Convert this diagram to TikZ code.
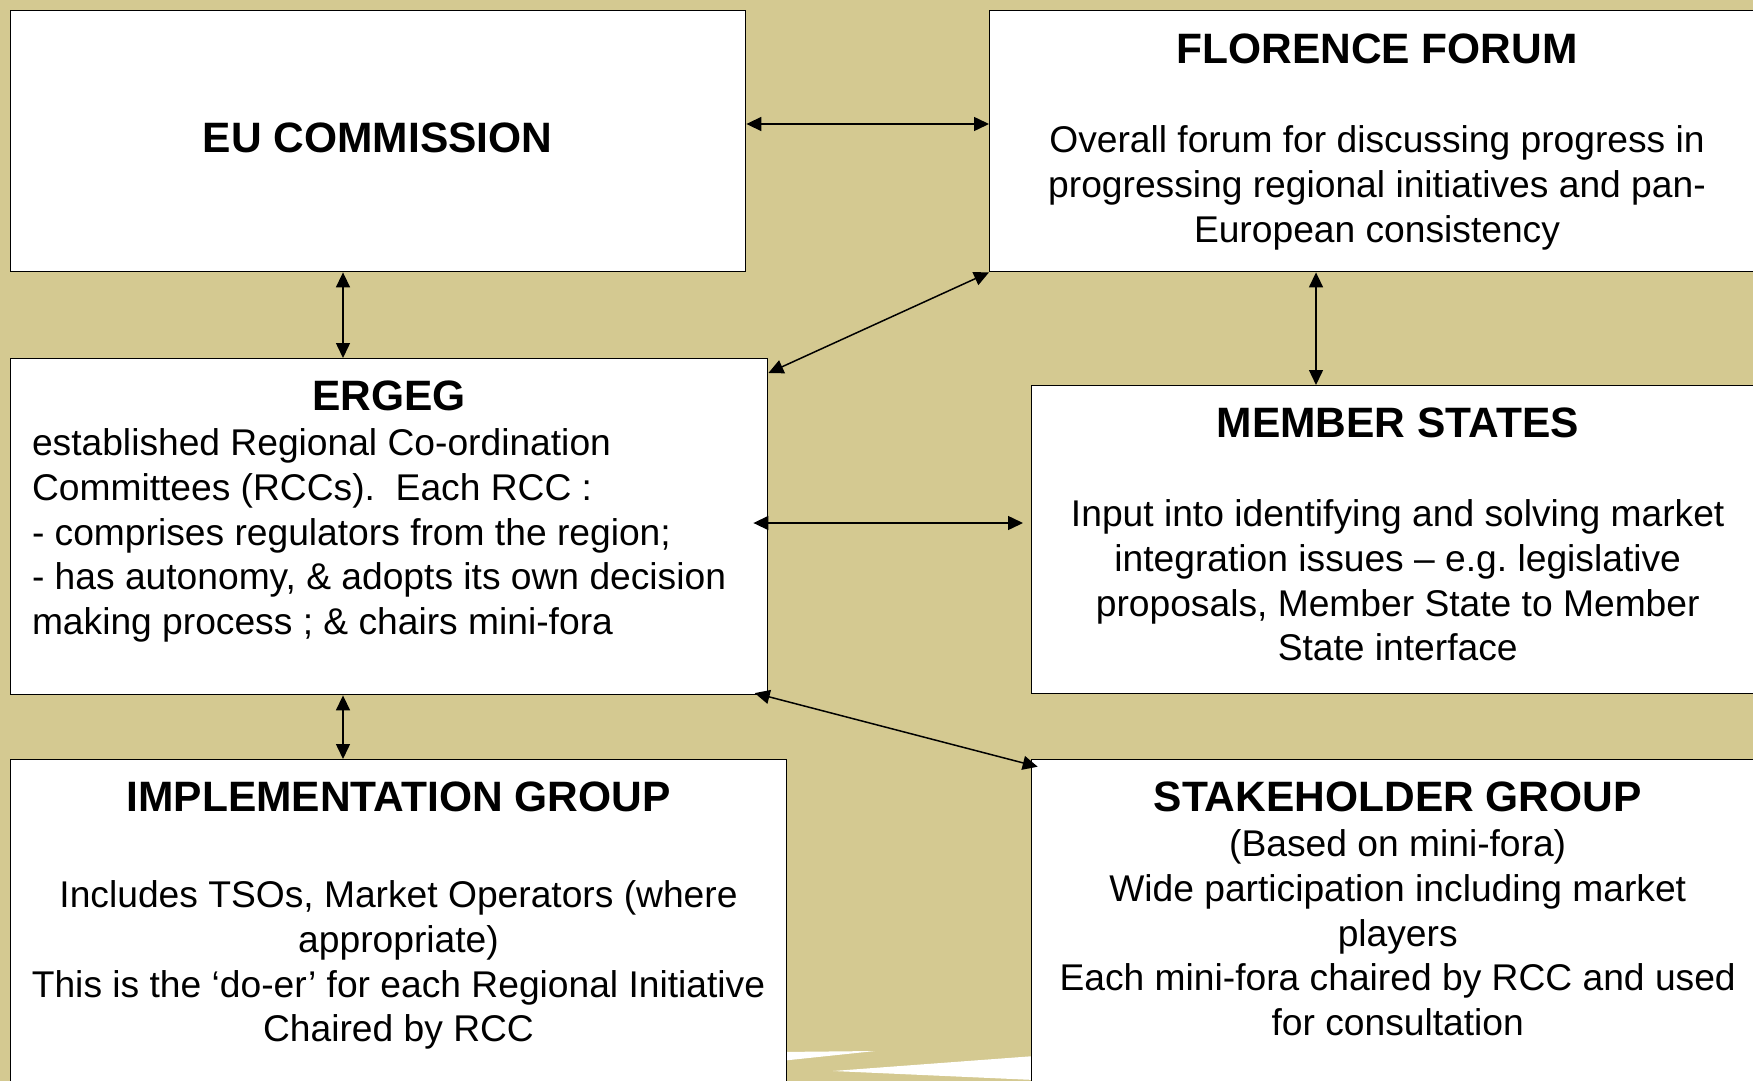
\documentclass[tikz,border=0pt]{standalone}
\usepackage{fontspec}
\setmainfont{Liberation Sans}
\usetikzlibrary{arrows.meta}
\definecolor{bgtan}{RGB}{212,201,145}
\frenchspacing
\tikzset{
  box/.style={draw=black, line width=1.4pt, fill=white, anchor=north west, inner sep=0pt},
  ttl/.style={anchor=base, inner sep=0pt, font=\fontsize{42.5}{50}\selectfont\bfseries},
  bodyc/.style={anchor=base, inner sep=0pt, font=\fontsize{37.2}{44.7}\selectfont},
  dbl/.style={line width=1.5pt, {Triangle[length=15pt,width=14pt]}-{Triangle[length=15pt,width=14pt]}}
}
\begin{document}
\begin{tikzpicture}[x=1pt,y=-1pt]
\useasboundingbox (0,0) rectangle (1753,1081);
\clip (0,0) rectangle (1753,1081);
\fill[bgtan] (0,0) rectangle (1753,1081);
% decorative white wedges
\fill[white] (780,1052) -- (875,1051) -- (780,1061) -- cycle;
\fill[white] (833,1071) -- (1035,1056) -- (1035,1080) -- cycle;
% boxes
\node[box, minimum width=735pt, minimum height=261pt] (eu) at (10,10) {};
\node[box, minimum width=780pt, minimum height=261pt] (ff) at (989,10) {};
\node[box, minimum width=757pt, minimum height=336pt] (ergeg) at (10,358) {};
\node[box, minimum width=740pt, minimum height=308pt] (ms) at (1031,385) {};
\node[box, minimum width=776pt, minimum height=340pt] (ig) at (10,759) {};
\node[box, minimum width=740pt, minimum height=340pt] (sg) at (1031,759) {};
% texts
\node[ttl] (euT) at (377.6,152.3) {EU COMMISSION};
\node[ttl] (ffT) at (1377,63.3) {FLORENCE FORUM};
\node[bodyc] (ffB) at (1377,152.7) {\begin{tabular}[t]{@{}c@{}}Overall forum for discussing progress in\\progressing regional initiatives and pan-\\European consistency\end{tabular}};
\node[ttl] (erT) at (389,410.7) {ERGEG};
\node[bodyc, anchor=base west] (erB) at (31.8,455.7) {\begin{tabular}[t]{@{}l@{}}established Regional Co-ordination\\Committees (RCCs).\ \ Each RCC :\\- comprises regulators from the region;\\- has autonomy, \& adopts its own decision\\making process ; \& chairs mini-fora\end{tabular}};
\node[ttl] (msT) at (1397.7,437.7) {MEMBER STATES};
\node[bodyc] (msB) at (1397.7,526.7) {\begin{tabular}[t]{@{}c@{}}Input into identifying and solving market\\integration issues – e.g. legislative\\proposals, Member State to Member\\State interface\end{tabular}};
\node[ttl] (igT) at (398.5,811.7) {IMPLEMENTATION GROUP};
\node[bodyc] (igB) at (398.5,907.7) {\begin{tabular}[t]{@{}c@{}}Includes TSOs, Market Operators (where\\appropriate)\\This is the ‘do-er’ for each Regional Initiative\\Chaired by RCC\end{tabular}};
\node[ttl] (sgT) at (1397.7,811.7) {STAKEHOLDER GROUP};
\node[bodyc] (sgB) at (1397.7,856.7) {\begin{tabular}[t]{@{}c@{}}(Based on mini-fora)\\Wide participation including market\\players\\Each mini-fora chaired by RCC and used\\for consultation\end{tabular}};
% connectors
\draw[dbl] (eu.east |- 0,124) -- (ff.west |- 0,124);
\draw[dbl] (eu.south -| 343,0) -- (ergeg.north -| 343,0);
\draw[dbl] (ff.south west) -- (ergeg.east |- 0,373);
\draw[dbl] (ff.south -| 1316,0) -- (ms.north -| 1316,0);
\draw[dbl] ([xshift=-15pt]ergeg.east |- 0,523) -- ([xshift=-8pt]ms.west |- 0,523);
\draw[dbl] (ergeg.south -| 343,0) -- (ig.north -| 343,0);
\draw[dbl] ([shift={(-13.7,-2.3)}]ergeg.south east) -- ([shift={(6.7,7.7)}]sg.north west);
\end{tikzpicture}
\end{document}
